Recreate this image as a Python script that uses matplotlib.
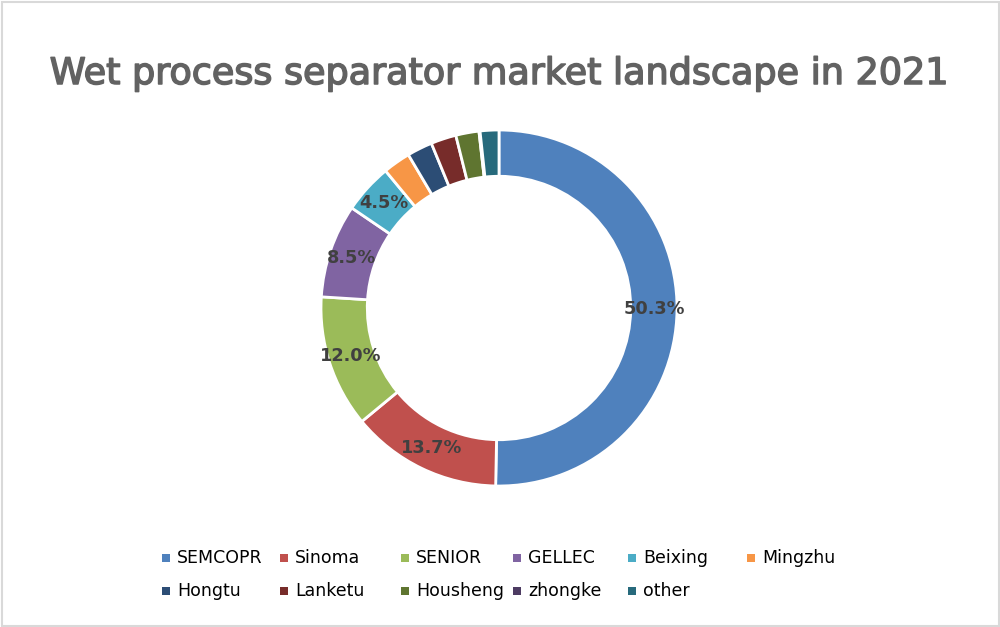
import matplotlib
matplotlib.use("Agg")
import matplotlib.pyplot as plt
import matplotlib.patheffects as pe
from matplotlib.patches import Rectangle
import numpy as np

title = "Wet process separator market landscape in 2021"
companies = ["SEMCOPR", "Sinoma", "SENIOR", "GELLEC", "Beixing", "Mingzhu",
             "Hongtu", "Lanketu", "Housheng", "zhongke", "other"]
shares = [50.3, 13.7, 12.0, 8.5, 4.5, 2.5, 2.3, 2.3, 2.1, 0.1, 1.7]
show_label = [True, True, True, True, True, False, False, False, False, False, False]
colors = ["#4F81BD", "#C0504D", "#9BBB59", "#8064A2", "#4BACC6", "#F79646",
          "#2C4D75", "#772C2A", "#5F7530", "#4D3B62", "#276A7C"]

W, H = 1000, 627
fig = plt.figure(figsize=(W / 100, H / 100), dpi=100)
fig.patch.set_facecolor("white")

# border
fig.patches.append(Rectangle((1.5 / W, 1.5 / H), 1 - 3 / W, 1 - 3 / H,
                             transform=fig.transFigure, fill=False,
                             edgecolor="#D9D9D9", linewidth=1.5))

fig.text(500 / W, 1 - 84 / H, title, ha="center", va="baseline",
         fontsize=26.3, color="#626262", family="DejaVu Sans",
         path_effects=[pe.withStroke(linewidth=1.1, foreground="#626262")])

cx, cy, R = 499, 308, 178
ax = fig.add_axes([(cx - R) / W, (H - cy - R) / H, 2 * R / W, 2 * R / H])
wedges, _ = ax.pie(shares, colors=colors, startangle=90, counterclock=False,
                   radius=1.0, wedgeprops=dict(width=0.26, edgecolor="white",
                                               linewidth=2))
ax.set_xlim(-1, 1)
ax.set_ylim(-1, 1)
ax.set_aspect("equal")
ax.axis("off")

r_lab = 0.875
for w, v, show in zip(wedges, shares, show_label):
    if not show:
        continue
    ang = np.deg2rad((w.theta1 + w.theta2) / 2)
    ax.text(r_lab * np.cos(ang), r_lab * np.sin(ang), f"{v:.1f}%",
            ha="center", va="center", fontsize=12.8, fontweight="bold",
            color="#404040")

# legend
col_x = [166, 284, 405, 517, 632, 751]
row_y = [558, 591]
for i, (lab, c) in enumerate(zip(companies, colors)):
    r, k = divmod(i, 6)
    x, y = col_x[k], row_y[r]
    fig.patches.append(Rectangle(((x - 4) / W, (H - y - 4) / H), 8 / W, 8 / H,
                                 transform=fig.transFigure, facecolor=c,
                                 edgecolor="none"))
    fig.text((x + 11) / W, 1 - y / H, lab, ha="left", va="center",
             fontsize=12.5, color="#000000")

fig.savefig("out.png", dpi=100)
